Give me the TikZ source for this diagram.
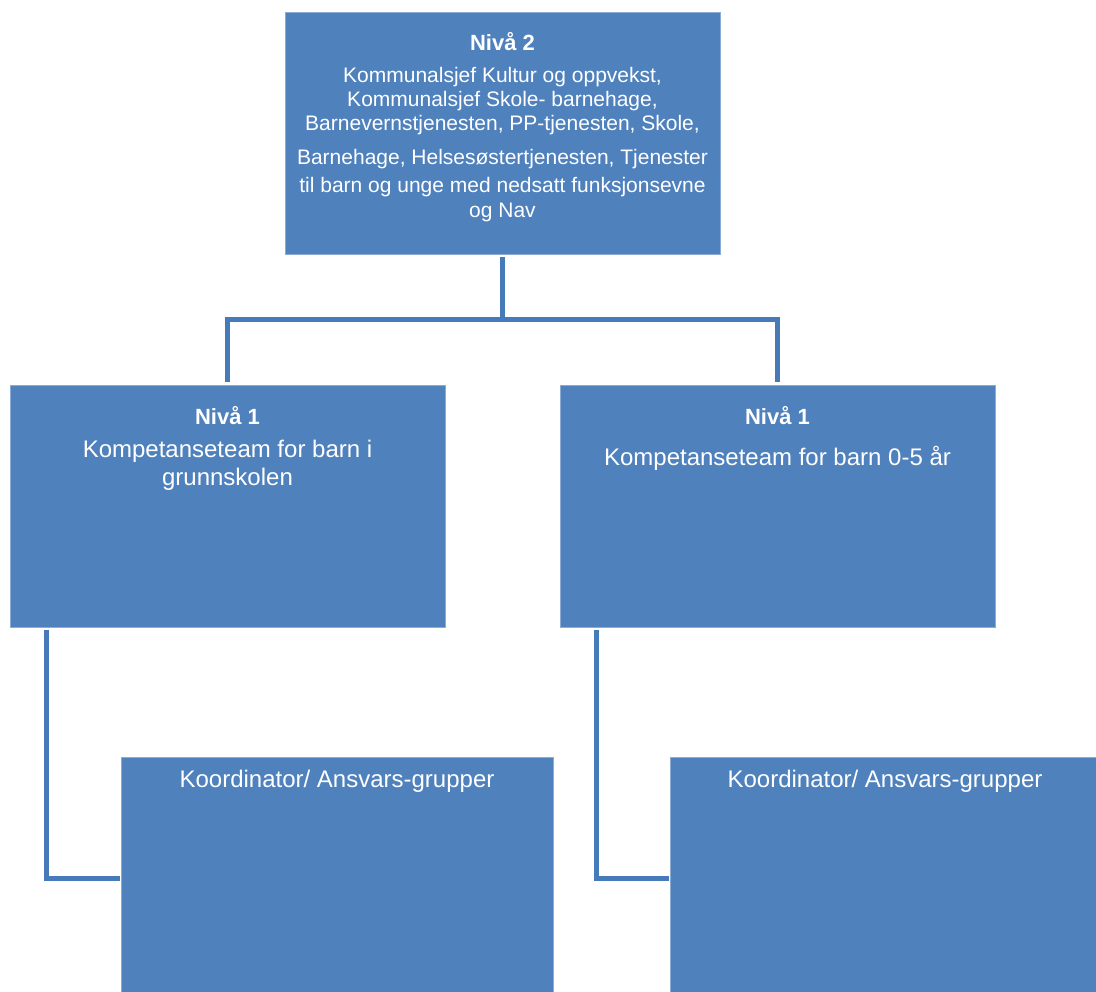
\documentclass[tikz,border=0pt]{standalone}
\usepackage{fontspec}
\setmainfont{Liberation Sans}
\definecolor{boxblue}{RGB}{79,129,189}
\definecolor{boxedge}{RGB}{140,172,214}
\definecolor{linkblue}{RGB}{70,122,184}
\begin{document}
\begin{tikzpicture}[x=1pt,y=-1pt,
    orgbox/.style={fill=boxblue,draw=boxedge,line width=0.6pt,inner sep=0pt,outer sep=0pt,anchor=north west},
    boxtext/.style={text=white,inner sep=0pt,align=center,anchor=north},
    link/.style={draw=linkblue,line width=5pt,shorten <=3pt,shorten >=3pt}]
            \useasboundingbox (0,0) rectangle (1096,992);
            \node[orgbox,minimum width=435pt,minimum height=242pt,
                label={[boxtext,yshift=-20pt,font=\fontsize{21}{24}\selectfont]north:{{\fontsize{22}{26}\selectfont\bfseries Nivå 2}\\[8pt]Kommunalsjef Kultur og oppvekst,\\Kommunalsjef Skole- barnehage,\\Barnevernstjenesten, PP-tjenesten, Skole,\\[10pt]Barnehage, Helsesøstertjenesten, Tjenester\\[4pt]til barn og unge med nedsatt funksjonsevne\\[1pt]og Nav}}] (niva2) at (285,12) {};
            \node[orgbox,minimum width=435pt,minimum height=242pt,
                label={[boxtext,yshift=-21pt,font=\fontsize{24}{28}\selectfont]north:{{\fontsize{22}{26}\selectfont\bfseries Nivå 1}\\[5pt]Kompetanseteam for barn i\\grunnskolen}}] (skole) at (10,385) {};
            \node[orgbox,minimum width=435pt,minimum height=242pt,
                label={[boxtext,yshift=-21pt,font=\fontsize{24}{28}\selectfont]north:{{\fontsize{22}{26}\selectfont\bfseries Nivå 1}\\[13pt]Kompetanseteam for barn 0-5 år}}] (barnehage) at (560,385) {};
            \node[orgbox,minimum width=432pt,minimum height=240pt,
                label={[boxtext,yshift=-13pt,font=\fontsize{24}{28}\selectfont]north:{Koordinator/ Ansvars-grupper}}] (koordskole) at (121,757) {};
            \node[orgbox,minimum width=430pt,minimum height=240pt,
                label={[boxtext,yshift=-13pt,font=\fontsize{24}{28}\selectfont]north:{Koordinator/ Ansvars-grupper}}] (koordbhg) at (670,757) {};
            \coordinate (fork) at (502.5,320);
            \draw[link,shorten >=0pt] (niva2.south) -- (fork);
            \draw[link] (skole.north) |- (fork) -| (barnehage.north);
            \draw[link,shorten >=1pt] ([xshift=36pt]skole.south west) |- ([yshift=-121pt]koordskole.north west);
            \draw[link,shorten >=1pt] ([xshift=36pt]barnehage.south west) |- ([yshift=-121pt]koordbhg.north west);
        \end{tikzpicture}
\end{document}
